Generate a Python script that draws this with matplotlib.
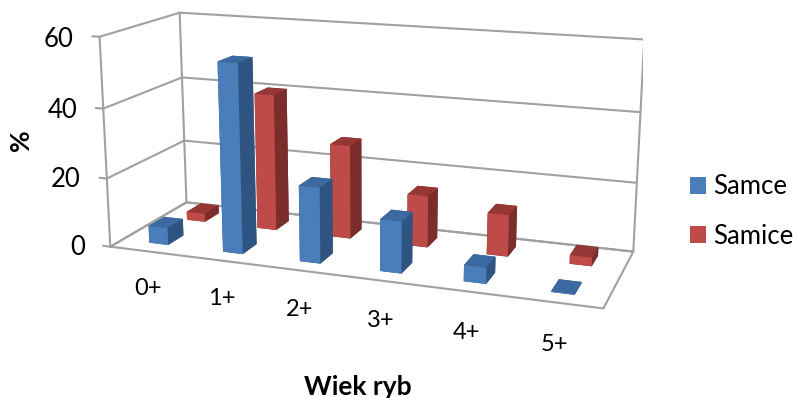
import matplotlib
matplotlib.use('Agg')
import matplotlib.pyplot as plt
from matplotlib.patches import Patch
from mpl_toolkits.mplot3d import proj3d

plt.rcParams['font.family'] = ['Lato', 'DejaVu Sans']

categories = ['0+', '1+', '2+', '3+', '4+', '5+']
samce = [5, 54, 21.5, 14.5, 4.5, 0.3]
samice = [2.5, 40.5, 27.5, 15, 12, 2.5]
z_ticks = [0, 20, 40, 60]

GREY = '#a0a0a0'
W = 797
H = 398
BAR_W = 0.26
BAR_D = 0.40

# face order in bar3d: bottom, top, -y, +y, -x, +x
BLUE = ['#2f5481', '#3c6aa0', '#4a7ebb', '#2f5481', '#2f5481', '#2f5481']
RED = ['#7b2d2b', '#963735', '#be4b48', '#7b2d2b', '#7b2d2b', '#7b2d2b']

fig = plt.figure(figsize=(W / 100, H / 100), dpi=100)

# camera fitted to the corners of the box in the picture
size = 559.67
cx = 362.77
cy = 153.33
ax = fig.add_axes([(cx - size / 2) / W, (H - cy - size / 2) / H, size / W, size / H],
                  projection='3d', computed_zorder=False)
ax.set_xlim(0, 6, view_margin=0)
ax.set_ylim(0, 2, view_margin=0)
ax.set_zlim(0, 60, view_margin=0)
ax.view_init(elev=14.358, azim=-70.063)
ax.set_proj_type('persp', focal_length=0.4388)
ax.set_box_aspect((1, 0.33, 0.4295))
ax.set_axis_off()
ax.patch.set_alpha(0)


def label(x, y, z, s, **kw):
    px, py, _ = proj3d.proj_transform(x, y, z, ax.get_proj())
    ax.text2D(px, py, s, transform=ax.transData, zorder=5, **kw)


line = dict(color=GREY, lw=1.5, zorder=1, solid_capstyle='round')

# walls and floor
ax.plot([0, 0], [0, 0], [0, 60], **line)
ax.plot([0, 0], [2, 2], [0, 60], **line)
ax.plot([6, 6], [2, 2], [0, 60], **line)
ax.plot([0, 6, 6, 0, 0], [0, 0, 2, 2, 0], [0, 0, 0, 0, 0], **line)

for z in z_ticks:
    ax.plot([-0.1, 0, 0, 6], [0, 0, 2, 2], [z, z, z, z], **line)
    label(-0.36, 0, z - 1.2, str(z), ha='right', va='center', fontsize=18.5)

# back row first, then left to right, so nearer bars cover farther ones
for row, values, colors in [(1, samice, RED), (0, samce, BLUE)]:
    for i, v in enumerate(values):
        ax.bar3d(i + 0.5 - BAR_W / 2, row + 0.5 - BAR_D / 2, 0, BAR_W, BAR_D, v,
                 color=colors, shade=False, linewidth=0.3, edgecolor='none',
                 zorder=2 + (1 - row) + i * 0.01)

for i, c in enumerate(categories):
    label(i + 0.49, 0, -11.2, c, ha='center', va='center', fontsize=17)

fig.text(21 / W, 1 - 140 / H, '%', rotation=90, ha='center', va='center',
         fontsize=19, fontweight='bold')
fig.text(358 / W, 1 - 387 / H, 'Wiek ryb', ha='center', va='center',
         fontsize=19, fontweight='bold')

handles = [Patch(facecolor='#4a7ebb', label='Samce'), Patch(facecolor='#be4b48', label='Samice')]
fig.legend(handles=handles, loc='center left', bbox_to_anchor=(690 / W, 1 - 211.5 / H),
           frameon=False, fontsize=18.5, handlelength=0.62, handleheight=0.62,
           handletextpad=0.3, labelspacing=0.95, borderpad=0, borderaxespad=0)

fig.savefig('out.png', dpi=100)
